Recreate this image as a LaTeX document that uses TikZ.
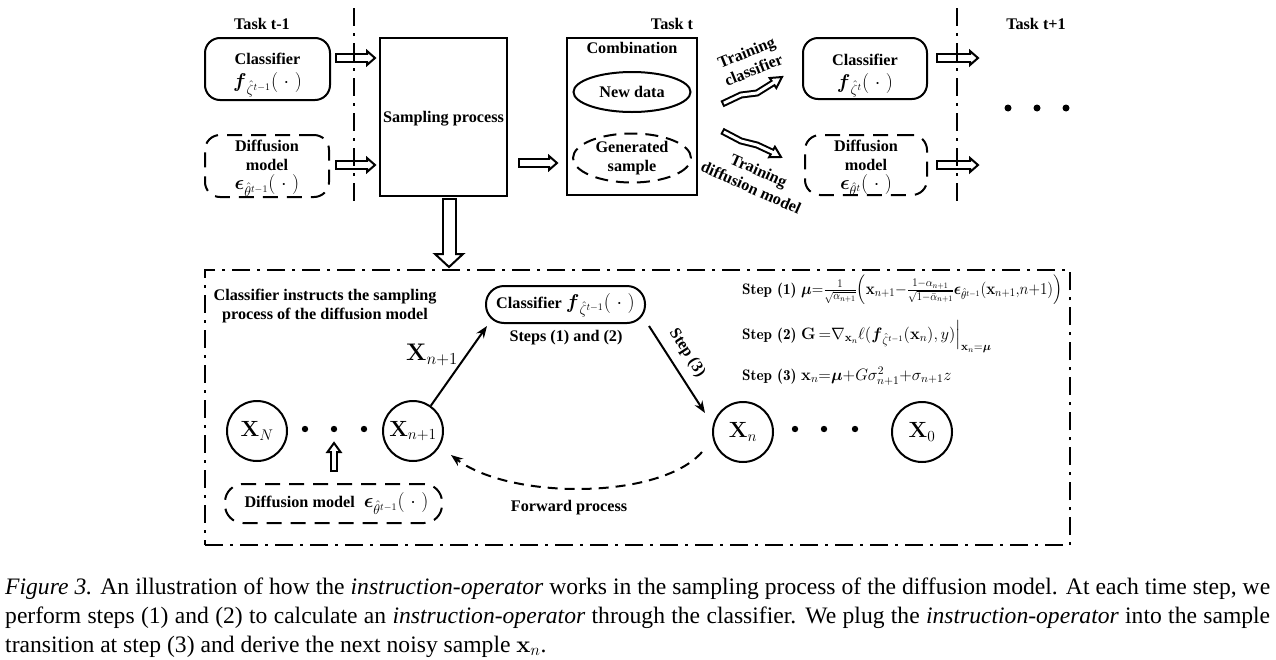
\RequirePackage{fix-cm}
\documentclass[tikz,border=0pt]{standalone}
\usepackage{amsmath,amssymb}
\usepackage[no-math]{fontspec}
\setmainfont{Liberation Serif}
\usepackage{graphicx}
\usetikzlibrary{calc,arrows.meta,shapes.geometric}

\newcommand\mf{\fontsize{20}{22}\selectfont}
\newcommand\steplab[1]{{\fontfamily{lmr}\fontsize{15.2}{17}\selectfont\bfseries #1}}
\newcommand\fml[1]{{\fontsize{16.5}{19}\selectfont$#1$}}
\def\lw{2pt}
% block arrow: #1 outer body width, #2 head half width, #3 body path, #4 head base, #5 tip
\newcommand\barrow[5]{%
  \draw[line width=#1pt, line join=miter, line cap=butt] #3;
  \draw[line width=\lw, line join=miter, fill=white] ($(#4)!#2pt!90:(#5)$) -- (#5) -- ($(#4)!#2pt!-90:(#5)$) -- cycle;
  \draw[line width=#1pt-4pt, white, line join=miter, line cap=butt, shorten <=\lw, shorten >=-1.5pt] #3;
}

\begin{document}
\begin{tikzpicture}[x=1pt,y=-1pt,
  every node/.style={inner sep=0pt},
  lbl/.style={font=\fontsize{16.2}{19}\selectfont\bfseries, align=center},
  box/.style={draw, line width=2pt, rounded corners=15pt, lbl},
  dbox/.style={box, dash pattern=on 15pt off 9pt},
  plainbox/.style={draw, line width=2pt, lbl},
  ddot/.style={line width=2pt, dash pattern=on 18pt off 7pt on 3pt off 7pt},
  circ/.style={draw, circle, line width=2pt, minimum size=60pt, font=\fontsize{22}{24}\selectfont},
  arr/.style={line width=2pt, -{Stealth[length=12pt,width=9pt]}},
]
\useasboundingbox (0,0) rectangle (1276,659);

% ---------- top row ----------
\node[lbl] (tA) at (262,24) {Task t-1};
\node[lbl] (tB) at (672,24) {Task t};
\node[lbl] (tC) at (1036,24) {Task t+1};

\node[box, minimum width=125pt, minimum height=62pt] (c1) at (267.5,69) {};
\node[lbl] (c1t) at ($(c1)+(0,6)$) {Classifier\\[4pt]{\mf$\boldsymbol{f}_{\hat{\zeta}^{t-1}}(\;\cdot\;)$}};
\node[dbox, minimum width=124pt, minimum height=62pt] (d1) at (267,166) {};
\node[lbl] (d1t) at ($(d1)+(0,2.5)$) {Diffusion\\model\\{\mf$\boldsymbol{\epsilon}_{\hat{\theta}^{t-1}}(\;\cdot\;)$}};

\node[plainbox, minimum width=127pt, minimum height=158pt] (sp) at (443.5,117) {};
\node[lbl] (spt) at ($(sp)+(0,2)$) {Sampling process};

\node[plainbox, minimum width=130pt, minimum height=157pt] (comb) at (632,116.5) {};
\node[lbl] (combt) at (632,48) {Combination};
\node[draw, ellipse, line width=2pt, minimum width=117pt, minimum height=40pt, lbl] (nd) at (632,92) {New data};
\node[draw, ellipse, line width=2pt, dash pattern=on 13pt off 8pt, minimum width=118pt, minimum height=49pt, lbl] (gs) at (632,158) {Generated\\sample};

\node[box, minimum width=124pt, minimum height=61pt] (c2) at (865,68.5) {};
\node[lbl] (c2t) at ($(c2)+(0,7)$) {Classifier\\[4pt]{\mf$\boldsymbol{f}_{\hat{\zeta}^{t}}(\;\cdot\;)$}};
\node[dbox, minimum width=122pt, minimum height=60pt] (d2) at (866,165) {};
\node[lbl] (d2t) at ($(d2)+(0,3)$) {Diffusion\\model\\{\mf$\boldsymbol{\epsilon}_{\hat{\theta}^{t}}(\;\cdot\;)$}};

\foreach \x in {1008,1037,1066} \fill (\x,108) circle (3.5pt);

% block arrows (top)
\coordinate (a1s) at ($(c1.east)+(4,-11)$);
\coordinate (a1t) at ($(sp.west|-a1s)+(-4,0)$);
\coordinate (a1b) at ($(a1t)+(-8,0)$);
\barrow{10}{7}{(a1s)--(a1b)}{a1b}{a1t}
\coordinate (a2s) at ($(d1.east)+(5,-1)$);
\coordinate (a2t) at ($(sp.west|-a2s)+(-4,0)$);
\coordinate (a2b) at ($(a2t)+(-8,0)$);
\barrow{10}{7}{(a2s)--(a2b)}{a2b}{a2t}
\coordinate (a3s) at ($(sp.east)+(10,46)$);
\coordinate (a3t) at ($(comb.west|-a3s)+(-9,0)$);
\coordinate (a3b) at ($(a3t)+(-8,0)$);
\barrow{10}{7}{(a3s)--(a3b)}{a3b}{a3t}
\coordinate (a4s) at ($(c2.east)+(8,-10.5)$);
\coordinate (a4t) at ($(a4s)+(42,0)$);
\coordinate (a4b) at ($(a4t)+(-8,0)$);
\barrow{10}{7}{(a4s)--(a4b)}{a4b}{a4t}
\coordinate (a5s) at ($(d2.east)+(8,0)$);
\coordinate (a5t) at ($(a5s)+(42,0)$);
\coordinate (a5b) at ($(a5t)+(-8,0)$);
\barrow{10}{7}{(a5s)--(a5b)}{a5b}{a5t}

% zigzag training arrows
\coordinate (z1a) at (722,104); \coordinate (z1b) at (741,95);
\coordinate (z1c) at (757,93);  \coordinate (z1e) at (773,83);
\coordinate (z1t) at (782,77);
\barrow{7}{6}{(z1a)--(z1b)--(z1c)--(z1e)}{z1e}{z1t}
\coordinate (z2a) at (722,131); \coordinate (z2b) at (741,141);
\coordinate (z2c) at (757,145); \coordinate (z2e) at (772,152);
\coordinate (z2t) at (781,157);
\barrow{7}{6}{(z2a)--(z2b)--(z2c)--(z2e)}{z2e}{z2t}
\node[lbl, rotate=22] (trc) at (750,61) {Training\\classifier};
\node[lbl, rotate=-24] (trd) at (755,179) {Training\\diffusion model};

% vertical separators
\draw[ddot] (354,8) -- (354,205);
\draw[ddot] (957,8) -- (957,205);

% ---------- bottom frame ----------
\node[draw, ddot, minimum width=865pt, minimum height=275pt] (frame) at (637.5,407.5) {};

\coordinate (bds) at ($(sp.south)+(5.5,1)$);
\coordinate (bdt) at ($(bds|-frame.north)+(0,-2)$);
\coordinate (bdb) at ($(bdt)+(0,-13)$);
\barrow{15}{14}{(bds)--(bdb)}{bdb}{bdt}

\node[lbl] (ci) at (325,306) {Classifier instructs the sampling\\process of the diffusion model};
\node[box, rounded corners=18pt, minimum width=159pt, minimum height=37pt] (cb) at (565.5,304.5) {};
\node[lbl] (cbt) at ($(cb)+(0,1)$) {Classifier {\mf$\boldsymbol{f}_{\hat{\zeta}^{t-1}}(\;\cdot\;)$}};
\node[lbl] (s12) at (566,338) {Steps (1) and (2)};

\node[circ] (xN) at (257,431) {$\mathbf{X}_N$};
\node[circ] (xn1) at (413,431) {$\mathbf{X}_{n+1}$};
\node[circ] (xn) at (743,432) {$\mathbf{X}_n$};
\node[circ] (x0) at (922,432) {$\mathbf{X}_0$};
\foreach \x in {305,334,364} \fill (\x,429) circle (3.2pt);
\foreach \x in {795,824,855} \fill (\x,429) circle (3.2pt);

\node[dbox, rounded corners=18pt, minimum width=217pt, minimum height=39pt] (db) at (333.5,503.5) {};
\node[lbl] (dbt) at ($(db)+(3,0)$) {Diffusion model\hspace{9pt}{\mf$\boldsymbol{\epsilon}_{\hat{\theta}^{t-1}}(\;\cdot\;)$}};
\coordinate (ups) at ($(db.north)+(0.5,-11)$);
\coordinate (upt) at ($(ups)+(0,-29)$);
\coordinate (upb) at ($(upt)+(0,9)$);
\barrow{8}{6.5}{(ups)--(upb)}{upb}{upt}

\node[font=\fontsize{24}{26}\selectfont] (xl) at (432,355) {$\mathbf{X}_{n+1}$};
\draw[arr] (xn1) -- ($(cb.south west)+(2,2)$);

\coordinate (s3e) at ($(xn.center)+(-38,-19)$);
\draw[arr] ($(cb.south east)+(3,2)$) -- (s3e);
\node[lbl, rotate=-57] (s3) at (687,353) {Step (3)};

\coordinate (fs) at ($(xn.center)+(-41,20)$);
\coordinate (fe) at ($(xn1.center)+(38,24)$);
\draw[arr, dash pattern=on 10pt off 7pt] (fs) .. controls +(-42,48) and +(59,45) .. (fe);
\node[lbl] (fp) at (569,508) {Forward process};

% step formulas
\node[anchor=base west] (st1) at (742,294) {\steplab{Step (1)}};
\node[anchor=base west] (f1) at (801,294) {\resizebox{261pt}{\height}{\fml{\boldsymbol{\mu}{=}\frac{1}{\sqrt{\alpha_{n+1}}}\Big(\mathbf{x}_{n+1}{-}\frac{1-\alpha_{n+1}}{\sqrt{1-\bar{\alpha}_{n+1}}}\boldsymbol{\epsilon}_{\hat{\theta}^{t-1}}(\mathbf{x}_{n+1}{,}n{+}1)\Big)}}};
\node[anchor=base west] (st2) at (742,339) {\steplab{Step (2)}};
\node[anchor=base west] (f2) at (801,339) {\fml{\mathbf{G}\,{=}\nabla_{\mathbf{x}_n}\ell(\boldsymbol{f}_{\hat{\zeta}^{t-1}}(\mathbf{x}_n),y)\Big|_{\mathbf{x}_n=\boldsymbol{\mu}}}};
\node[anchor=base west] (st3) at (742,380) {\steplab{Step (3)}};
\node[anchor=base west] (f3) at (801,380) {\fml{\mathbf{x}_n{=}\boldsymbol{\mu}{+}G\sigma_{n+1}^2{+}\sigma_{n+1}z}};

% ---------- caption ----------
\node[anchor=base west, font=\fontsize{23.6}{28.7}\selectfont] (cap1) at (5,594) {\makebox[1265pt][s]{\textit{Figure 3.} An illustration of how the \textit{instruction-operator} works in the sampling process of the diffusion model. At each time step, we}};
\node[anchor=base west, font=\fontsize{23.6}{28.7}\selectfont] (cap2) at (5,623) {\makebox[1265pt][s]{perform steps (1) and (2) to calculate an \textit{instruction-operator} through the classifier. We plug the \textit{instruction-operator} into the sample}};
\node[anchor=base west, font=\fontsize{23.6}{28.7}\selectfont] (cap3) at (5,652) {transition at step (3) and derive the next noisy sample $\mathbf{x}_n$.};
\end{tikzpicture}
\end{document}
